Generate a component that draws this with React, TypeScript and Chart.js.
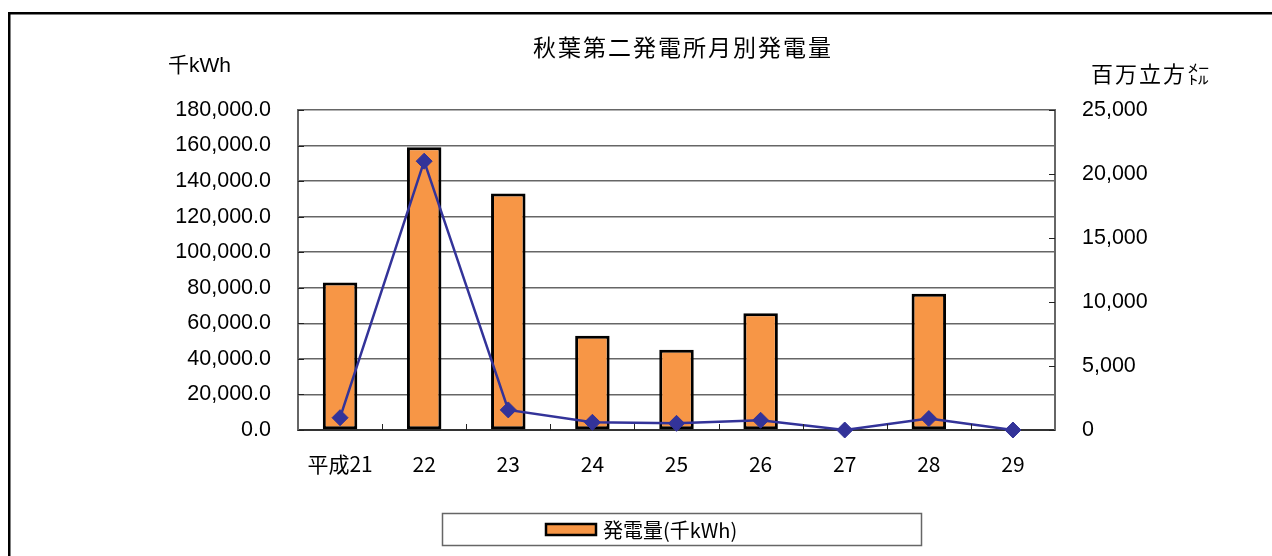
import React, { useEffect, useRef } from 'react';
import { Chart, registerables } from 'chart.js';

Chart.register(...registerables);

const chartTitle = '秋葉第二発電所月別発電量';
const leftUnit = '千kWh';
const rightUnit = '百万立方㍍';
const categories = ['平成21', '22', '23', '24', '25', '26', '27', '28', '29'];
const generationLabel = '発電量(千kWh)';
const generation = [83000, 159000, 133000, 53000, 45200, 65700, 0, 76600, 0];
const waterLabel = '使用水量(百万立方㍍)';
const waterVolume = [960, 21000, 1570, 600, 520, 760, 0, 890, 0];
const leftAxisRange = [0, 180000, 20000];
const rightAxisRange = [0, 25000, 5000];

const BAR_COLOR = '#F79646';
const LINE_COLOR = '#333399';
const NUM_FONT = "'Liberation Sans', Arial, sans-serif";
const JP_FONT = "'Noto Sans CJK JP', sans-serif";

export default function App() {
  const ref = useRef<HTMLCanvasElement>(null);

  useEffect(() => {
    const canvas = ref.current;
    if (!canvas) return;

    const decor = {
      id: 'decor',
      beforeDraw(chart: any) {
        const ctx = chart.ctx;
        ctx.save();
        ctx.fillStyle = '#fff';
        ctx.fillRect(0, 0, chart.width, chart.height);
        ctx.fillStyle = '#000';
        ctx.fillRect(8, 12, chart.width - 8, 2.5);
        ctx.fillRect(8, 12, 2.5, chart.height - 12);
        ctx.restore();
      },
      afterDraw(chart: any) {
        const ctx = chart.ctx;
        const area = chart.chartArea;
        const xs = chart.scales.x;
        const yl = chart.scales.y;
        const yr = chart.scales.y1;
        ctx.save();

        // inside tick marks
        ctx.strokeStyle = '#222';
        ctx.lineWidth = 1;
        ctx.beginPath();
        for (let i = 0; i < categories.length - 1; i++) {
          const x = Math.round((xs.getPixelForValue(i) + xs.getPixelForValue(i + 1)) / 2) + 0.5;
          ctx.moveTo(x, area.bottom);
          ctx.lineTo(x, area.bottom - 6);
        }
        yl.ticks.forEach((t: any) => {
          const y = Math.round(yl.getPixelForValue(t.value)) + 0.5;
          ctx.moveTo(area.left, y);
          ctx.lineTo(area.left + 6, y);
        });
        yr.ticks.forEach((t: any) => {
          const y = Math.round(yr.getPixelForValue(t.value)) + 0.5;
          ctx.moveTo(area.right, y);
          ctx.lineTo(area.right - 6, y);
        });
        ctx.stroke();

        // title
        ctx.fillStyle = '#000';
        ctx.textBaseline = 'middle';
        ctx.font = `23px ${JP_FONT}`;
        (ctx as any).letterSpacing = '2px';
        ctx.textAlign = 'center';
        ctx.fillText(chartTitle, 683, 47);
        (ctx as any).letterSpacing = '0px';

        // unit labels
        ctx.textAlign = 'left';
        ctx.font = `21px ${NUM_FONT}, ${JP_FONT}`;
        ctx.fillText(leftUnit, 168, 66);
        ctx.font = `22px ${JP_FONT}`;
        (ctx as any).letterSpacing = '2px';
        ctx.fillText(rightUnit, 1091, 74);
        (ctx as any).letterSpacing = '0px';

        // legend
        const ds = chart.data.datasets[0];
        ctx.strokeStyle = '#666';
        ctx.lineWidth = 1.5;
        ctx.strokeRect(442.5, 513.5, 479, 32);
        ctx.fillStyle = ds.backgroundColor;
        ctx.fillRect(546, 524, 50, 11);
        ctx.strokeStyle = '#000';
        ctx.lineWidth = 2.5;
        ctx.strokeRect(546, 524, 50, 11);
        ctx.fillStyle = '#000';
        ctx.font = `20px ${JP_FONT}`;
        ctx.textAlign = 'left';
        ctx.fillText(ds.label, 603, 530);

        ctx.restore();
      },
    };

    const chart = new Chart(canvas, {
      type: 'bar',
      data: {
        labels: categories,
        datasets: [
          {
            type: 'bar',
            label: generationLabel,
            data: generation,
            backgroundColor: BAR_COLOR,
            borderColor: '#000',
            borderWidth: 3,
            borderSkipped: false,
            barPercentage: 0.41,
            categoryPercentage: 1,
            yAxisID: 'y',
            order: 2,
          },
          {
            type: 'line',
            label: waterLabel,
            data: waterVolume,
            borderColor: LINE_COLOR,
            backgroundColor: LINE_COLOR,
            borderWidth: 2.5,
            pointStyle: 'rectRot',
            pointRadius: 8,
            pointBorderWidth: 1,
            pointBackgroundColor: LINE_COLOR,
            pointBorderColor: LINE_COLOR,
            tension: 0,
            clip: false,
            yAxisID: 'y1',
            order: 1,
          } as any,
        ],
      },
      options: {
        responsive: false,
        animation: false,
        devicePixelRatio: 1,
        layout: { padding: { top: 110, left: 0, right: 0, bottom: 0 } },
        plugins: {
          legend: { display: false },
          title: { display: false },
          tooltip: { enabled: false },
        },
        scales: {
          x: {
            offset: true,
            grid: { display: true, drawOnChartArea: false, drawTicks: false, color: 'rgba(0,0,0,0)' },
            border: { display: true, color: '#333', width: 2 },
            ticks: {
              padding: 21,
              color: '#000',
              maxRotation: 0,
              autoSkip: false,
              font: { family: JP_FONT, size: 21 },
            },
            afterFit: (s: any) => {
              s.height = 126;
            },
          },
          y: {
            position: 'left',
            min: leftAxisRange[0],
            max: leftAxisRange[1],
            ticks: {
              stepSize: leftAxisRange[2],
              padding: 27,
              color: '#000',
              font: { family: NUM_FONT, size: 21.5 },
              callback: (v: any) =>
                Number(v).toLocaleString('en-US', { minimumFractionDigits: 1, maximumFractionDigits: 1 }),
            },
            grid: { color: '#666', lineWidth: 1.5, drawTicks: false },
            border: { display: true, color: '#666', width: 2 },
            afterFit: (s: any) => {
              s.width = 298;
            },
          },
          y1: {
            position: 'right',
            min: rightAxisRange[0],
            max: rightAxisRange[1],
            ticks: {
              stepSize: rightAxisRange[2],
              padding: 27,
              color: '#000',
              font: { family: NUM_FONT, size: 21.5 },
              callback: (v: any) => Number(v).toLocaleString('en-US'),
            },
            grid: { drawOnChartArea: false, drawTicks: false },
            border: { display: true, color: '#666', width: 2 },
            afterFit: (s: any) => {
              s.width = 217;
            },
          },
        },
      } as any,
      plugins: [decor],
    });

    return () => chart.destroy();
  }, []);

  return (
    <div style={{ position: 'fixed', left: 0, top: 0, width: 1272, height: 556, background: '#fff' }}>
      <canvas ref={ref} width={1272} height={556} style={{ display: 'block', width: 1272, height: 556 }} />
    </div>
  );
}
